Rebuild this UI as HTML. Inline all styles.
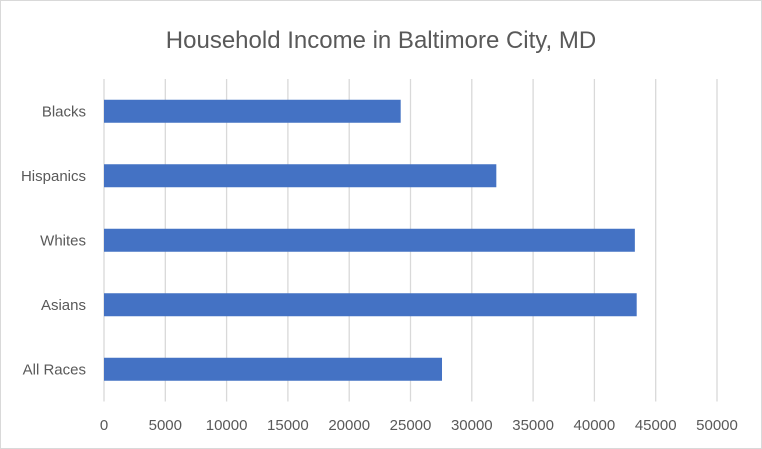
<!DOCTYPE html>
<html><head><meta charset="utf-8"><style>
body{margin:0;background:#fff;}
svg{display:block;font-family:"Liberation Sans",sans-serif;}
</style></head><body>
<svg id="chart" width="762" height="449">
<rect x="0.5" y="0.5" width="761" height="448" fill="#fff" stroke="#d9d9d9"/>
<text x="381" y="48" text-anchor="middle" font-size="24" fill="#595959">Household Income in Baltimore City, MD</text>
<g id="grid"></g><g id="bars"></g><g id="ylabels"></g><g id="xlabels"></g>
</svg>
<script>
const categories=["Blacks","Hispanics","Whites","Asians","All Races"];
const values=[24200,32000,43300,43450,27570];
const ticks=[0,5000,10000,15000,20000,25000,30000,35000,40000,45000,50000];
const x0=104,x1=717,plotTop=79,plotBottom=401.5,maxV=50000;
const xs=v=>x0+(v/maxV)*(x1-x0);
const band=(plotBottom-plotTop)/categories.length;
const ns="http://www.w3.org/2000/svg";
const mk=(t,a)=>{const e=document.createElementNS(ns,t);for(const k in a)e.setAttribute(k,a[k]);return e;};
const grid=document.getElementById('grid'),bars=document.getElementById('bars'),yl=document.getElementById('ylabels'),xl=document.getElementById('xlabels');
ticks.forEach(t=>{
 const l=mk('line',{x1:xs(t),x2:xs(t),y1:plotTop,y2:plotBottom,stroke:'#d9d9d9','stroke-width':1.3});
 
 
 grid.appendChild(l);
 const tx=mk('text',{x:xs(t),y:430,'text-anchor':'middle','font-size':15,fill:'#595959'});
 tx.textContent=t;
 
 
 xl.appendChild(tx);
});
categories.forEach((c,i)=>{
 const cy=plotTop+band*(i+0.5);
 const r=mk('rect',{x:x0,y:cy-11.5,width:xs(values[i])-x0,height:23,fill:'#4472c4'});
 
 
 bars.appendChild(r);
 const tx=mk('text',{x:86,y:cy+5,'text-anchor':'end','font-size':15,fill:'#595959'});
 tx.textContent=c;
 
 
 yl.appendChild(tx);
});
</script>
</body></html>
